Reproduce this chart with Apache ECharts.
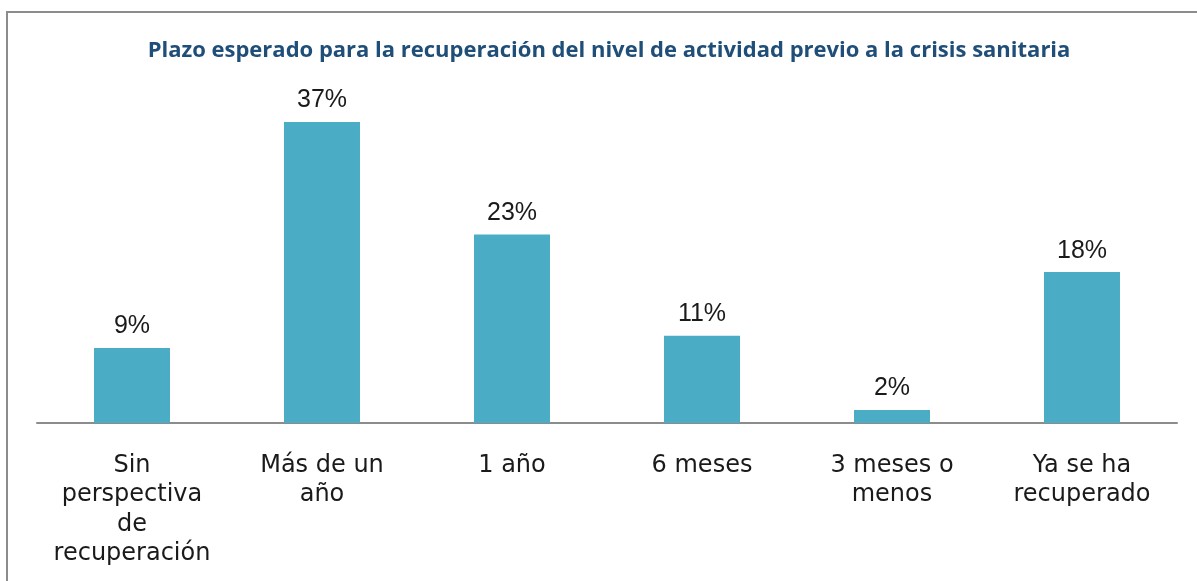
<!DOCTYPE html>
<html><head><meta charset="utf-8">
<script src="https://cdn.jsdelivr.net/npm/echarts@6/dist/echarts.min.js"></script>
<style>html,body{margin:0;padding:0;background:#fff}#c{width:1197px;height:581px}</style>
</head><body><div id="c"></div>
<script>
const titleText = 'Plazo esperado para la recuperación del nivel de actividad previo a la crisis sanitaria';
const categories = ['Sin\nperspectiva\nde\nrecuperación', 'Más de un\naño', '1 año', '6 meses', '3 meses o\nmenos', 'Ya se ha\nrecuperado'];
const values = [9.2, 36.9, 23.1, 10.7, 1.6, 18.5];
const shownLabels = ['9%', '37%', '23%', '11%', '2%', '18%'];

const chart = echarts.init(document.getElementById('c'));
chart.setOption({
  animation: false,
  title: {
    text: titleText, left: 604, top: 35, textAlign: 'center',
    textStyle: { fontFamily: 'Open Sans', fontWeight: 'bold', fontSize: 22, color: '#1F4E79' }
  },
  graphic: [{
    type: 'rect', shape: { x: 7, y: 12, width: 1300, height: 700 },
    style: { fill: 'none', stroke: '#8c8c8c', lineWidth: 2 }, silent: true, z: -1
  }],
  grid: { left: 37, right: 20, top: 56, bottom: 158 },
  xAxis: {
    type: 'category', data: categories,
    axisLine: { lineStyle: { color: '#8c8c8c', width: 2 } },
    axisTick: { show: false },
    axisLabel: { fontFamily: '"DejaVu Sans", Verdana, sans-serif', fontSize: 24, color: '#1a1a1a', lineHeight: 29.5, margin: 28, interval: 0 }
  },
  yAxis: { type: 'value', min: 0, max: 45, show: false, splitLine: { show: false } },
  series: [{
    type: 'bar', data: values, barWidth: 76,
    itemStyle: { color: '#4BACC6' },
    label: {
      show: true, position: 'top', distance: 9,
      fontFamily: '"Liberation Sans", Arial, sans-serif', fontSize: 25, color: '#1a1a1a',
      formatter: p => shownLabels[p.dataIndex]
    }
  }]
});
</script></body></html>
